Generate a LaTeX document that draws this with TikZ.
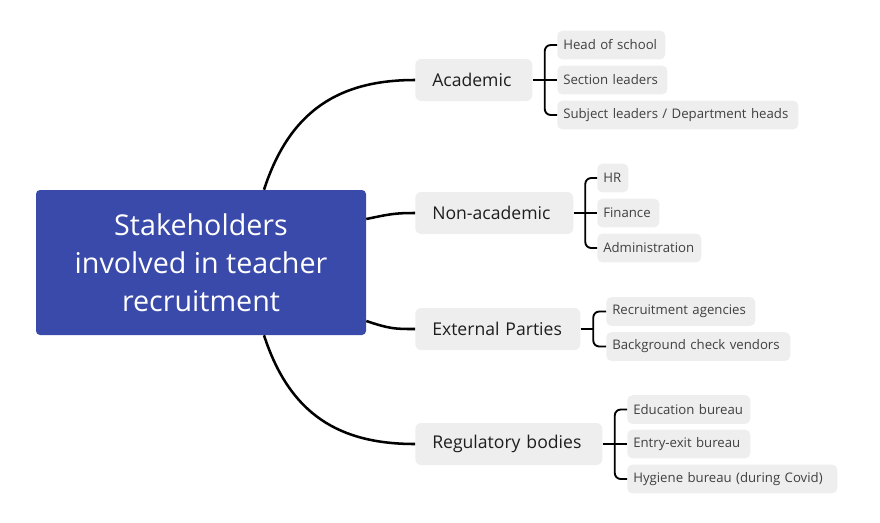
\documentclass[tikz,border=0pt]{standalone}
\usepackage{fontspec}
\setmainfont{Open Sans}
\usetikzlibrary{calc}
\definecolor{rootblue}{HTML}{3A4AAA}
\definecolor{boxgray}{HTML}{EEEEEE}
\definecolor{txt}{HTML}{1E1E1E}
\tikzset{
  rootbox/.style={fill=rootblue, draw=none, rounded corners=3pt, text=white, align=center,
    minimum width=247.5pt, minimum height=108.75pt, inner sep=0pt,
    font=\fontsize{21.5}{28.5}\selectfont},
  midbox/.style={fill=boxgray, draw=none, rounded corners=4.5pt, text=txt, anchor=west,
    align=left, minimum height=31.5pt, inner xsep=12.75pt, inner ysep=0pt,
    font=\fontsize{13.2}{15}\selectfont},
  leafbox/.style={fill=boxgray, draw=none, rounded corners=3.75pt, text=txt!85!white, anchor=west,
    align=left, minimum height=21.5pt, inner xsep=4.5pt, inner ysep=0pt,
    font=\fontsize{9.9}{12}\selectfont},
  mainline/.style={draw=black, line width=1.9pt},
  brline/.style={draw=black, line width=1.4pt, rounded corners=4.5pt},
}
\begin{document}
\begin{tikzpicture}[x=0.75pt, y=-0.75pt]
\useasboundingbox (0,0) rectangle (880,522);
% root
\node[rootbox] (root) at (201,262.5) {Stakeholders\\involved in teacher\\recruitment};
% mid nodes
\node[midbox, text width=62.25pt] (acad) at (415,80) {Academic};
\node[midbox, text width=93pt] (nonacad) at (415,213) {Non-academic};
\node[midbox, text width=98.25pt] (ext) at (415,329) {External Parties};
\node[midbox, text width=114.75pt] (reg) at (415,444) {Regulatory bodies};
% leaves academic
\node[leafbox, text width=72pt] (l1) at (557,45) {Head of school};
\node[leafbox, text width=73.5pt] (l2) at (557,80) {Section leaders};
\node[leafbox, text width=171.75pt] (l3) at (557,115) {Subject leaders / Department heads};
% leaves non-academic
\node[leafbox, text width=14.25pt] (n1) at (597,178) {HR};
\node[leafbox, text width=37.5pt] (n2) at (597,213) {Finance};
\node[leafbox, text width=69pt] (n3) at (597,248) {Administration};
% leaves external
\node[leafbox, text width=102.75pt] (e1) at (606,311.5) {Recruitment agencies};
\node[leafbox, text width=129pt] (e2) at (606,346.5) {Background check vendors};
% leaves regulatory
\node[leafbox, text width=83.25pt] (r1) at (627,409.5) {Education bureau};
\node[leafbox, text width=83.25pt] (r2) at (627,444) {Entry-exit bureau};
\node[leafbox, text width=148.5pt] (r3) at (627,479) {Hygiene bureau (during Covid)};
% main connectors
\draw[mainline] ($(root.north)+(63,0)$) .. controls ($(root.north)+(89,-80)$) and ($(acad.west)+(-75,0)$) .. (acad.west);
\draw[mainline] ($(root.east)+(0,-43.5)$) .. controls ($(root.east)+(24,-48.5)$) and ($(nonacad.west)+(-20,0)$) .. (nonacad.west);
\draw[mainline] ($(root.east)+(0,58.5)$) .. controls ($(root.east)+(24,66.5)$) and ($(ext.west)+(-20,0)$) .. (ext.west);
\draw[mainline] ($(root.south)+(63,0)$) .. controls ($(root.south)+(89,80)$) and ($(reg.west)+(-75,0)$) .. (reg.west);
% brackets
\coordinate (ba) at ($(acad.east)!0.5!(acad.east -| l1.west)$);
\draw[brline] (l1.west) -| (ba) |- (l3.west);
\draw[brline] (acad.east) -- (l2.west);
\coordinate (bn) at ($(nonacad.east)!0.5!(nonacad.east -| n1.west)$);
\draw[brline] (n1.west) -| (bn) |- (n3.west);
\draw[brline] (nonacad.east) -- (n2.west);
\coordinate (be) at ($(ext.east)!0.5!(ext.east -| e1.west)$);
\draw[brline] (e1.west) -| (be) |- (e2.west);
\draw[brline] (ext.east) -- (be);
\coordinate (br) at ($(reg.east)!0.5!(reg.east -| r1.west)$);
\draw[brline] (r1.west) -| (br) |- (r3.west);
\draw[brline] (reg.east) -- (r2.west);
\end{tikzpicture}
\end{document}
